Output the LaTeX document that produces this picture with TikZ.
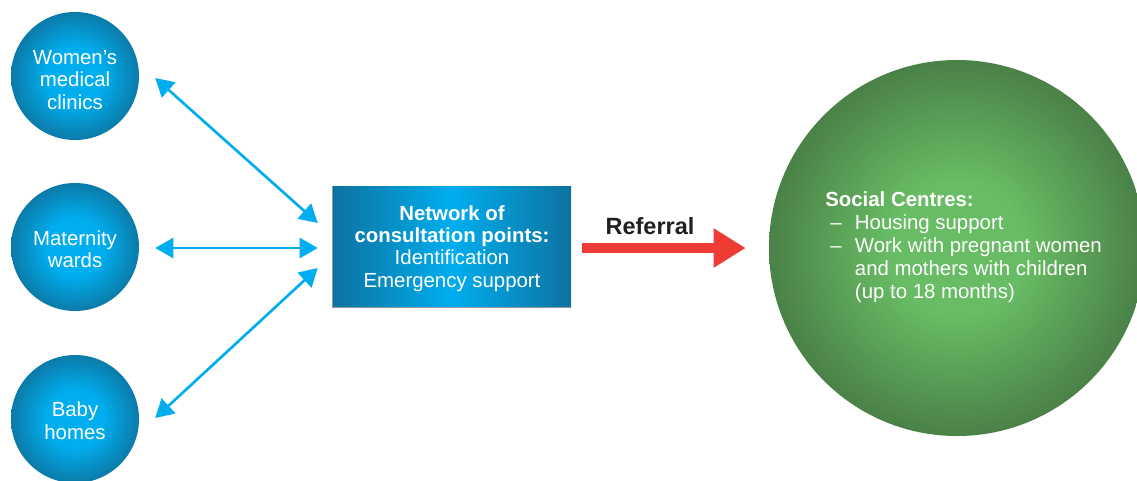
\documentclass[tikz,border=0pt]{standalone}
\usepackage{fontspec}
\setmainfont{Liberation Sans}
\usetikzlibrary{arrows.meta,calc}
\definecolor{arrowblue}{HTML}{00AEEF}
\definecolor{circin}{HTML}{00AEEF}
\definecolor{circout}{HTML}{0B7BA8}
\definecolor{boxedge}{HTML}{0D72A0}
\definecolor{boxmid}{HTML}{00AEEF}
\definecolor{greenin}{HTML}{68BC64}
\definecolor{greenout}{HTML}{4A8147}
\definecolor{refred}{HTML}{EE3B33}
\definecolor{txtdark}{HTML}{231F20}
\definecolor{shadowgray}{HTML}{9A9A9A}
\pgfdeclareradialshading{bluecircshade}{\pgfpoint{0bp}{0bp}}{color(0bp)=(circin); color(11bp)=(circin); color(25bp)=(circout); color(50bp)=(circout)}
\pgfdeclareradialshading{greencircshade}{\pgfpoint{0bp}{0bp}}{color(0bp)=(greenin); color(9bp)=(greenin); color(25bp)=(greenout); color(50bp)=(greenout)}
\pgfdeclarehorizontalshading{boxshade}{100bp}{color(0bp)=(boxedge); color(25bp)=(boxedge); color(50bp)=(boxmid); color(75bp)=(boxedge); color(100bp)=(boxedge)}
\begin{document}
\begin{tikzpicture}[x=0.75pt,y=-0.75pt,
  bluecirc/.style={circle,minimum size=96pt,inner sep=0pt,shading=bluecircshade},
  circtext/.style={text=white,align=center,inner sep=0pt,
    font=\fontsize{15.3pt}{16.9pt}\selectfont},
  netbox/.style={rectangle,minimum width=178.5pt,minimum height=90.75pt,
    inner sep=0pt,shading=boxshade},
  boxtext/.style={text=white,align=center,inner sep=0pt,
    font=\fontsize{15.3pt}{16.7pt}\selectfont},
  greencirc/.style={circle,minimum size=282pt,inner sep=0pt,shading=greencircshade},
  barrow/.style={draw=arrowblue,line width=2pt,
    arrows={Triangle[length=13.5pt,width=15pt,fill=arrowblue]-Triangle[length=13.5pt,width=15pt,fill=arrowblue]}},
  rarrow/.style={draw=refred,line width=7.5pt,
    arrows={-Triangle[length=24pt,width=27.75pt,fill=refred]}},
  greentext/.style={text=white,align=left,inner sep=0pt,
    font=\fontsize{15.3pt}{17.2pt}\selectfont}
  ]
\clip (0,0) rectangle (1137,480);
\fill[white] (0,0) rectangle (1137,480);

\node[bluecirc] (w) at (75,76) {};
\node[bluecirc] (m) at (75,247) {};
\node[bluecirc] (b) at (75,419) {};
\node[circtext] (wt) at ($(w)+(0,4)$) {Women’s\\medical\\clinics};
\node[circtext] (mt) at ($(m)+(0,2)$) {Maternity\\wards};
\node[circtext] (bt) at ($(b)+(0,1.5)$) {Baby\\homes};

\node[netbox] (box) at (452,246.5) {};
\draw[shadowgray,line width=0.9pt] ($(box.north west)+(-0.6,0)$) -- ($(box.south west)+(-0.6,0.6)$) -- ($(box.south east)+(0,0.6)$);
\node[boxtext] (boxt) at ($(box)+(0,2)$) {\textbf{Network of}\\\textbf{consultation points:}\\Identification\\Emergency support};

\node[greencirc] (g) at (957,248) {};

\node[greentext,anchor=west] (gt) at (825,248) {%
\begin{tabular}{@{\hspace{3.75pt}}l@{\hspace{10pt}}l@{}}
\multicolumn{2}{@{}l}{\textbf{Social Centres:}}\\
– & Housing support\\
– & Work with pregnant women\\
  & and mothers with children\\
  & (up to 18 months)
\end{tabular}};

\node[text=txtdark,font=\fontsize{17.6pt}{20pt}\selectfont\bfseries] (ref) at (650,226) {Referral};

\draw[barrow] ($(w.east)+(16,2)$) -- ($(box.west)+(-15,-23.5)$);
\draw[barrow] ($(m.east)+(16,1)$) -- ($(box.west)+(-15,1.5)$);
\draw[barrow] ($(b.east)+(16,-1)$) -- ($(box.west)+(-15,21.5)$);

\draw[rarrow] ($(box.east)+(11,1.5)$) -- ($(g.west)+(-23,0)$);
\end{tikzpicture}
\end{document}
